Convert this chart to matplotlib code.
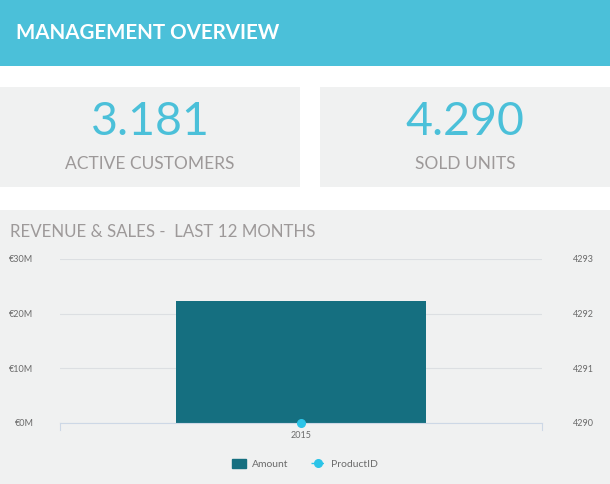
import matplotlib.pyplot as plt
from matplotlib.patches import Rectangle
from matplotlib.lines import Line2D

plt.rcParams['font.family'] = ['Lato', 'DejaVu Sans']

# data
kpi_values = ['3.181', '4.290']
kpi_labels = ['ACTIVE CUSTOMERS', 'SOLD UNITS']
years = ['2015']
amount = [22.3e6]
product_id = [4290]
left_ticks = [0, 10e6, 20e6, 30e6]
left_labels = ['€0M', '€10M', '€20M', '€30M']
right_ticks = [4290, 4291, 4292, 4293]

W, H = 610, 484
teal = '#4bc0d9'
panel = '#f0f1f1'
gray_txt = '#9d9999'

fig = plt.figure(figsize=(W / 100, H / 100), dpi=100)
fig.patch.set_facecolor('white')

# background canvas in pixel coords
bg = fig.add_axes([0, 0, 1, 1])
bg.set_xlim(0, W)
bg.set_ylim(H, 0)
bg.axis('off')

bg.add_patch(Rectangle((0, 0), W, 66, color=teal, lw=0))
bg.text(16, 33, 'MANAGEMENT OVERVIEW', color='white', fontsize=14.8,
        fontweight='bold', va='center', ha='left')

boxes = [(0, 300), (320, 610)]
for (x0, x1), val, lab in zip(boxes, kpi_values, kpi_labels):
    bg.add_patch(Rectangle((x0, 87), x1 - x0, 100, color=panel, lw=0))
    cx = (x0 + x1) / 2
    bg.text(cx, 122, val, color=teal, fontsize=33.5, fontweight='normal',
            ha='center', va='center')
    bg.text(cx, 164, lab, color=gray_txt, fontsize=12.5,
            ha='center', va='center')

bg.add_patch(Rectangle((0, 210), W, H - 210, color=panel, lw=0))
bg.text(10, 232, 'REVENUE & SALES -  LAST 12 MONTHS', color=gray_txt,
        fontsize=12.2, ha='left', va='center')

# chart
ax = fig.add_axes([60 / W, (H - 423) / H, 482 / W, 164 / H])
ax.set_facecolor('none')
x = range(len(years))
ax.bar(x, amount, width=0.52, color='#156f80', zorder=2)
ax.set_xlim(-0.5, 0.5)
ax.set_ylim(0, 30e6)
ax.set_yticks(left_ticks)
ax.set_yticklabels(left_labels)
ax.set_xticks(list(x))
ax.set_xticklabels(years)
ax.grid(axis='y', color='#dcdfe2', lw=0.8, zorder=0)
for s in ['top', 'right', 'left']:
    ax.spines[s].set_visible(False)
ax.spines['bottom'].set_color('#cdd8e6')
ax.spines['bottom'].set_zorder(3)
ax.tick_params(axis='y', length=0, pad=19, labelsize=6.5, labelcolor='#6b6b6b')
ax.tick_params(axis='x', length=0, pad=6, labelsize=6.5, labelcolor='#6b6b6b')
for xe in (-0.5, 0.5):
    ax.plot([xe, xe], [0, -1.3e6], color='#cdd8e6', lw=0.8, clip_on=False)

ax2 = ax.twinx()
ax2.plot(list(x), product_id, marker='o', color='#2bc4e8', ms=5.5, lw=1,
         ls='--', zorder=5, clip_on=False)
ax2.set_ylim(4290, 4293)
ax2.set_yticks(right_ticks)
for s in ax2.spines.values():
    s.set_visible(False)
ax2.tick_params(axis='y', length=0, pad=22, labelsize=6.5, labelcolor='#6b6b6b')

handles = [Rectangle((0, 0), 1, 1, color='#156f80'),
           Line2D([], [], color='#2bc4e8', marker='o', ls=(0, (2, 1.5)),
                  ms=5.5, lw=1)]
fig.legend(handles, ['Amount', 'ProductID'], loc='center',
           bbox_to_anchor=(0.5, (H - 464) / H), ncol=2, frameon=False,
           fontsize=7.5, labelcolor='#6b6b6b', handlelength=1.3,
           handleheight=1.0, columnspacing=2.2, handletextpad=0.6)

fig.savefig('out.png', dpi=100, facecolor='white')
